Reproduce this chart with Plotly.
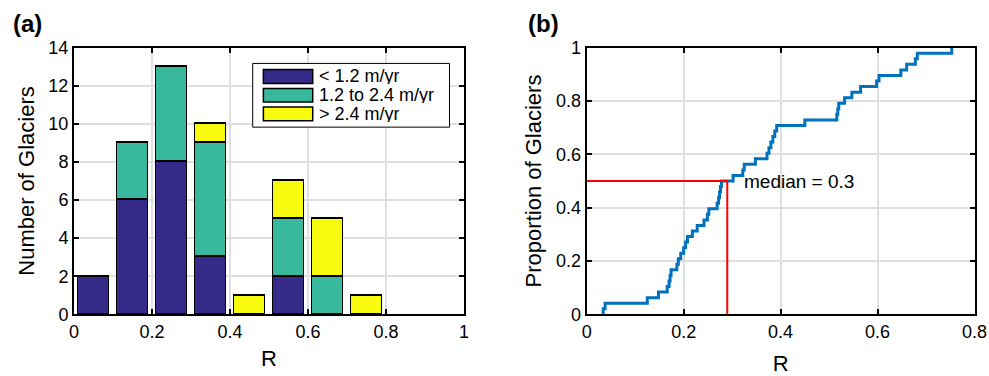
import numpy as np
import plotly.graph_objects as go

# ---------------- data ----------------
bin_centers = [0.05, 0.15, 0.25, 0.35, 0.45, 0.55, 0.65, 0.75, 0.85, 0.95]
count_low = [2, 6, 8, 3, 0, 2, 0, 0, 0, 0]      # < 1.2 m/yr
count_mid = [0, 3, 5, 6, 0, 3, 2, 0, 0, 0]      # 1.2 to 2.4 m/yr
count_high = [0, 0, 0, 1, 1, 2, 3, 1, 0, 0]     # > 2.4 m/yr
series_names = ["< 1.2 m/yr", "1.2 to 2.4 m/yr", "> 2.4 m/yr"]
series_colors = ["#352a87", "#38b99e", "#f9fb0e"]

r_values = [0.034, 0.038, 0.125, 0.148, 0.166, 0.170, 0.172, 0.174,
            0.186, 0.189, 0.194, 0.200, 0.204, 0.208, 0.218, 0.228,
            0.242, 0.249, 0.252, 0.269, 0.272, 0.274, 0.276, 0.278,
            0.302, 0.322, 0.325, 0.348, 0.372, 0.376, 0.380, 0.384,
            0.388, 0.392, 0.450, 0.516, 0.518, 0.520, 0.532, 0.547,
            0.565, 0.598, 0.603, 0.648, 0.660, 0.678, 0.682, 0.753]

xticks_a = [0, 0.2, 0.4, 0.6, 0.8, 1]
xticklabels_a = ["0", "0.2", "0.4", "0.6", "0.8", "1"]
yticks_a = [0, 2, 4, 6, 8, 10, 12, 14]
xticks_b = [0, 0.2, 0.4, 0.6, 0.8]
xticklabels_b = ["0", "0.2", "0.4", "0.6", "0.8"]
yticks_b = [0, 0.2, 0.4, 0.6, 0.8, 1]
yticklabels_b = ["0", "0.2", "0.4", "0.6", "0.8", "1"]

FONT = "Liberation Sans, Arial, Helvetica, sans-serif"

fig = go.Figure()

# ---------------- panel (a): stacked bars ----------------
for counts, name, color in zip([count_low, count_mid, count_high], series_names, series_colors):
    fig.add_trace(go.Bar(
        x=bin_centers, y=[c if c > 0 else None for c in counts], width=0.08,
        name=name, marker=dict(color=color, line=dict(color="black", width=1.5)),
        xaxis="x", yaxis="y", showlegend=False))

# ---------------- panel (b): empirical CDF ----------------
rs = np.sort(np.array(r_values))
n = len(rs)
cdf_x = np.concatenate([[rs[0]], rs])
cdf_y = np.concatenate([[0.0], np.arange(1, n + 1) / n])
fig.add_trace(go.Scatter(x=cdf_x, y=cdf_y, mode="lines", line=dict(color="#0072bd", width=3, shape="hv"),
                         xaxis="x2", yaxis="y2", showlegend=False))

median = float(np.median(rs))
fig.add_trace(go.Scatter(x=[0, median, median], y=[0.5, 0.5, 0], mode="lines",
                         line=dict(color="#ff0000", width=2), xaxis="x2", yaxis="y2", showlegend=False))
fig.add_annotation(x=median + 0.03, y=0.5, xref="x2", yref="y2", text=f"median = {round(median, 1)}",
                   showarrow=False, xanchor="left", yanchor="middle", font=dict(family=FONT, size=19, color="black"))

# ---------------- manual legend for panel (a) ----------------
fig.add_shape(type="rect", xref="x domain", yref="y domain", x0=0.4582, x1=0.9628, y0=0.702, y1=0.941,
              line=dict(color="black", width=1), fillcolor="white", layer="above")
rows = [(0.9186, 0.8661), (0.8474, 0.796), (0.7773, 0.7259)]
for (y1, y0), name, color in zip(rows, series_names, series_colors):
    fig.add_shape(type="rect", xref="x domain", yref="y domain", x0=0.4856, x1=0.6121, y0=y0, y1=y1,
                  line=dict(color="black", width=1.5), fillcolor=color, layer="above")
    fig.add_annotation(x=0.625, y=(y0 + y1) / 2, xref="x domain", yref="y domain", text=name,
                       showarrow=False, xanchor="left", yanchor="middle", height=16, borderpad=0,
                       font=dict(family=FONT, size=18, color="black"))

# ---------------- panel labels ----------------
fig.add_annotation(x=11 / 989, y=1 - 23 / 376, xref="paper", yref="paper", text="<b>(a)</b>", showarrow=False,
                   xanchor="left", yanchor="middle", font=dict(family=FONT, size=24, color="black"))
fig.add_annotation(x=526 / 989, y=1 - 23 / 376, xref="paper", yref="paper", text="<b>(b)</b>", showarrow=False,
                   xanchor="left", yanchor="middle", font=dict(family=FONT, size=24, color="black"))

axis_common = dict(showline=True, linecolor="black", linewidth=2, mirror="ticks", ticks="inside",
                   ticklen=5, tickwidth=2, tickcolor="black", showgrid=True, gridcolor="#e0e0e0",
                   gridwidth=1.5, zeroline=False, automargin=False, ticklabeloverflow="allow",
                   tickfont=dict(family=FONT, size=18, color="black"),
                   title_font=dict(family=FONT, size=22, color="black"))

ydom = [1 - 314.3 / 376, 1 - 47.7 / 376]
fig.update_layout(
    width=989, height=376, margin=dict(l=0, r=0, t=0, b=0, autoexpand=False),
    paper_bgcolor="white", plot_bgcolor="white", barmode="stack", bargap=0,
    xaxis=dict(domain=[74 / 989, 464 / 989], range=[0, 1], tickvals=xticks_a, ticktext=xticklabels_a,
               title=dict(text="R", standoff=10), **axis_common),
    yaxis=dict(domain=ydom, range=[0, 14], tickvals=yticks_a, title=dict(text="Number of Glaciers", standoff=8),
               **axis_common),
    xaxis2=dict(domain=[586.7 / 989, 974.5 / 989], range=[0, 0.8], tickvals=xticks_b, ticktext=xticklabels_b,
                anchor="y2", title=dict(text="R", standoff=17), **axis_common),
    yaxis2=dict(domain=ydom, range=[0, 1], tickvals=yticks_b, ticktext=yticklabels_b, anchor="x2",
                title=dict(text="Proportion of Glaciers", standoff=8), **axis_common),
)

fig.write_html("out.html")
